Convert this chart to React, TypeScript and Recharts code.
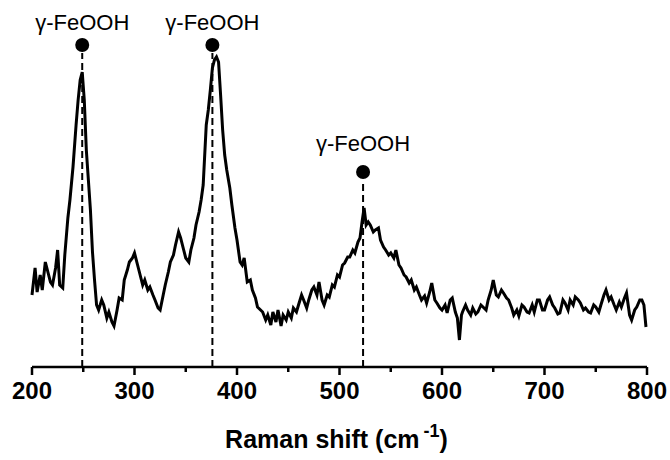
import React from "react";
import { LineChart, Line, XAxis, YAxis, ReferenceLine, ReferenceDot } from "recharts";

// Raman shift (cm-1) and intensity (a.u.)
const shift = [
  200, 203, 205, 208, 210, 213, 215, 218, 220, 223, 225, 227, 230, 232, 235, 237, 240, 243, 245, 247,
  249, 251, 253, 255, 257, 259, 261, 263, 265, 268, 270, 273, 275, 278, 280, 283, 285, 288, 290, 293,
  295, 298, 300, 303, 305, 308, 310, 313, 315, 318, 320, 323, 325, 328, 330, 333, 335, 338, 340, 343,
  345, 348, 350, 353, 355, 358, 360, 363, 365, 367, 370, 372, 374, 376, 378, 380, 382, 384, 386, 388,
  390, 393, 395, 398, 400, 403, 405, 407, 410, 413, 415, 418, 420, 425, 428, 430, 433, 435, 438, 440,
  443, 445, 448, 450, 453, 455, 458, 460, 463, 465, 468, 470, 473, 475, 478, 480, 483, 485, 488, 490,
  493, 495, 498, 500, 503, 505, 508, 510, 513, 515, 518, 520, 522, 524, 526, 528, 530, 533, 535, 538,
  540, 543, 545, 548, 550, 553, 555, 558, 560, 563, 565, 568, 570, 573, 575, 578, 580, 583, 585, 588,
  590, 593, 595, 598, 600, 603, 605, 608, 610, 613, 615, 617, 619, 620, 623, 625, 628, 630, 633, 635,
  638, 640, 643, 645, 648, 650, 653, 655, 658, 660, 663, 665, 668, 670, 673, 675, 678, 680, 683, 685,
  688, 690, 693, 695, 698, 700, 703, 705, 708, 710, 713, 715, 718, 720, 723, 725, 728, 730, 733, 735,
  738, 740, 743, 745, 748, 750, 753, 755, 758, 760, 763, 765, 768, 770, 773, 775, 778, 780, 783, 785,
  788, 790, 793, 795, 797, 799,
];

const intensity = [
  72, 99, 75, 92, 77, 105, 97, 85, 82, 99, 117, 82, 79, 112, 149, 167, 200, 242, 267, 287,
  295, 267, 217, 187, 157, 115, 87, 62, 57, 67, 62, 49, 55, 45, 41, 57, 69, 67, 87, 97,
  105, 109, 114, 102, 94, 82, 87, 77, 80, 72, 67, 59, 57, 72, 82, 95, 105, 112, 122, 135,
  129, 117, 109, 105, 117, 129, 142, 155, 167, 182, 242, 257, 277, 299, 307, 310, 305, 272, 237, 212,
  197, 179, 162, 139, 127, 105, 102, 109, 85, 87, 77, 69, 60, 55, 47, 52, 42, 55, 45, 57,
  41, 52, 47, 55, 49, 59, 55, 62, 72, 67, 59, 67, 77, 80, 72, 85, 67, 62, 72, 70,
  82, 80, 92, 90, 102, 104, 110, 110, 117, 114, 125, 129, 145, 159, 142, 145, 142, 135, 137, 139,
  127, 120, 117, 112, 114, 109, 117, 102, 99, 92, 90, 84, 87, 77, 80, 72, 67, 71, 64, 75,
  84, 67, 64, 59, 57, 62, 54, 67, 69, 55, 49, 27, 52, 55, 62, 57, 52, 59, 53, 55,
  62, 60, 57, 67, 77, 87, 72, 70, 77, 74, 69, 67, 59, 52, 57, 51, 62, 60, 55, 54,
  62, 55, 67, 67, 57, 57, 67, 70, 62, 59, 53, 54, 67, 64, 57, 67, 62, 70, 67, 64,
  57, 59, 55, 54, 62, 60, 55, 62, 72, 77, 67, 70, 62, 57, 65, 60, 69, 74, 52, 47,
  57, 60, 67, 67, 62, 40,
];

const majorTicks = [200, 300, 400, 500, 600, 700, 800];
const allTicks = [200, 250, 300, 350, 400, 450, 500, 550, 600, 650, 700, 750, 800];

// marked bands: position, dot height, label offset
const peakShift = [249, 376, 523];
const peakDot = [322, 322, 195];
const peakLabelGap = [8, 8, 14];
const peakName = "γ-FeOOH";

const data = shift.map((s, i) => ({ shift: s, intensity: intensity[i] }));

const FONT = "'Liberation Sans', Arial, sans-serif";

function ShiftTick({ x, y, payload }: any) {
  const major = majorTicks.includes(payload.value);
  return (
    <g>
      <line x1={x} x2={x} y1={y} y2={y + (major ? 8 : 5)} stroke="#000" strokeWidth={2.5} />
      {major && (
        <text x={x} y={y + 32} textAnchor="middle" fontSize={24} fontWeight="bold" fontFamily={FONT} fill="#000">
          {payload.value}
        </text>
      )}
    </g>
  );
}

function AxisTitle({ viewBox }: any) {
  const cx = viewBox.x + viewBox.width / 2;
  return (
    <text x={cx - 3} y={viewBox.y + 81} textAnchor="middle" fontSize={25} fontWeight="bold" fontFamily={FONT} fill="#000">
      Raman shift (cm
      <tspan dx={4} dy={-11} fontSize={18}>-1</tspan>
      <tspan dy={11}>)</tspan>
    </text>
  );
}

export default function App() {
  return (
    <div style={{ position: "absolute", left: 0, top: 0, width: 670, height: 460, background: "#fff" }}>
      <LineChart width={670} height={460} data={data} margin={{ top: 10, right: 23, left: 32, bottom: 0 }}>
        <XAxis
          dataKey="shift"
          type="number"
          domain={[200, 800]}
          ticks={allTicks}
          interval={0}
          tickSize={0}
          tickMargin={0}
          tick={<ShiftTick />}
          axisLine={{ stroke: "#000", strokeWidth: 2.5 }}
          height={93}
          label={<AxisTitle />}
        />
        <YAxis hide domain={[0, 357]} type="number" />
        {peakShift.map((s, i) => (
          <ReferenceLine
            key={`l${s}`}
            segment={[{ x: s, y: 0 }, { x: s, y: peakDot[i] - 8 }]}
            stroke="#000"
            strokeWidth={2}
            strokeDasharray="7 4"
          />
        ))}
        <Line
          type="linear"
          dataKey="intensity"
          stroke="#000"
          strokeWidth={3}
          strokeLinejoin="miter"
          dot={false}
          isAnimationActive={false}
        />
        {peakShift.map((s, i) => (
          <ReferenceDot
            key={`d${s}`}
            x={s}
            y={peakDot[i]}
            r={7}
            fill="#000"
            stroke="none"
            label={{ value: peakName, position: "top", offset: peakLabelGap[i], fill: "#000", fontSize: 22, fontFamily: FONT }}
          />
        ))}
      </LineChart>
    </div>
  );
}
